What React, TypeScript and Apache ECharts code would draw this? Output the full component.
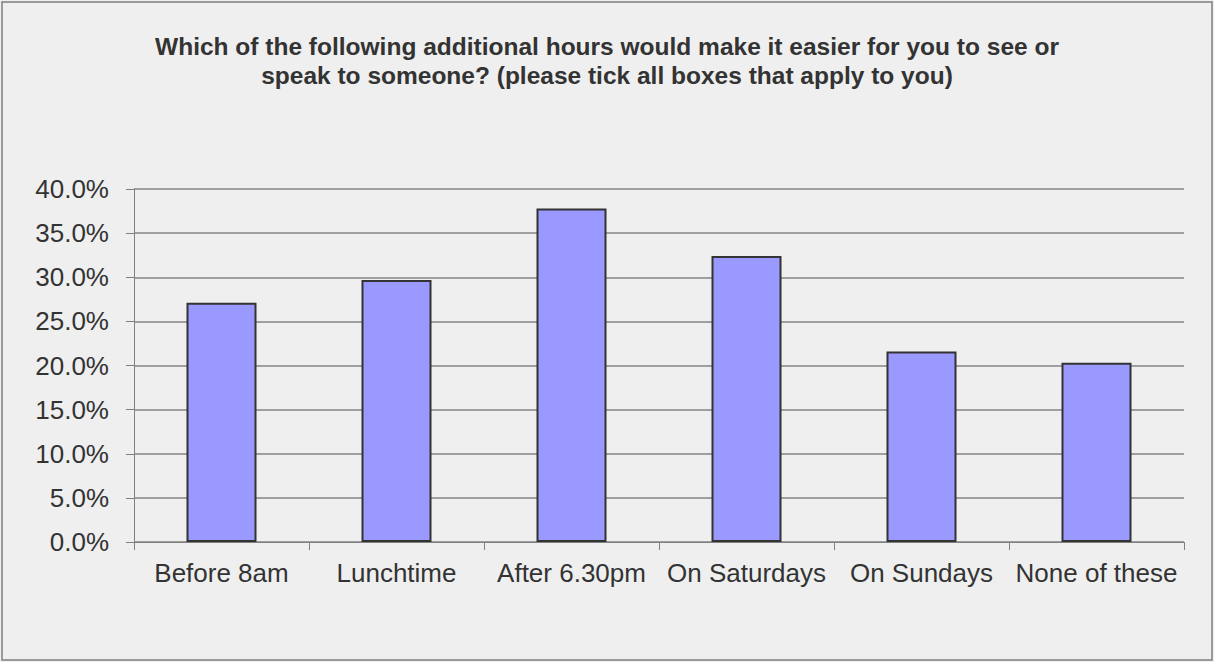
import React, { useEffect, useRef } from "react";
import * as echarts from "echarts";

const categories = ["Before 8am", "Lunchtime", "After 6.30pm", "On Saturdays", "On Sundays", "None of these"];
const values = [27.1, 29.7, 37.8, 32.4, 21.6, 20.3];
const titleLines = [
  "Which of the following additional hours would make it easier for you to see or",
  "speak to someone? (please tick all boxes that apply to you)",
];

export default function App() {
  const ref = useRef<HTMLDivElement>(null);
  useEffect(() => {
    const chart = echarts.init(ref.current!, null, { renderer: "svg" });
    const font = "'Liberation Sans', Arial, sans-serif";
    chart.setOption({
      animation: false,
      backgroundColor: "#efefef",
      textStyle: { fontFamily: font },
      title: {
        text: titleLines.join("\n"),
        left: "center",
        top: 27,
        textStyle: {
          fontFamily: font,
          fontSize: 24.5,
          fontWeight: "bold",
          color: "#333333",
          lineHeight: 29,
        },
      },
      graphic: [
        {
          type: "rect",
          shape: { x: 2, y: 2, width: 1210, height: 658 },
          style: { fill: "none", stroke: "#7f7f7f", lineWidth: 1.5 },
          silent: true,
        },
      ],
      grid: { left: 134, right: 30, top: 189, bottom: 120, containLabel: false },
      xAxis: {
        type: "category",
        data: categories,
        axisLine: { show: true, lineStyle: { color: "#808080", width: 1 } },
        axisTick: { show: true, alignWithLabel: false, length: 8, lineStyle: { color: "#808080" } },
        axisLabel: { fontSize: 26, color: "#333333", margin: 18, fontFamily: font, interval: 0 },
      },
      yAxis: {
        type: "value",
        min: 0,
        max: 40,
        interval: 5,
        axisLine: { show: true, lineStyle: { color: "#808080", width: 1 } },
        axisTick: { show: true, length: 8, lineStyle: { color: "#808080" } },
        axisLabel: {
          fontSize: 26,
          color: "#333333",
          margin: 25,
          fontFamily: font,
          formatter: (v: number) => v.toFixed(1) + "%",
        },
        splitLine: { show: true, lineStyle: { color: "#858585", width: 1.5 } },
      },
      series: [
        {
          type: "bar",
          data: values,
          barWidth: "40%",
          itemStyle: { color: "#9999ff", borderColor: "#333333", borderWidth: 2 },
        },
      ],
    });
    return () => chart.dispose();
  }, []);
  return <div ref={ref} style={{ position: "fixed", left: 0, top: 0, width: 1214, height: 662 }} />;
}
